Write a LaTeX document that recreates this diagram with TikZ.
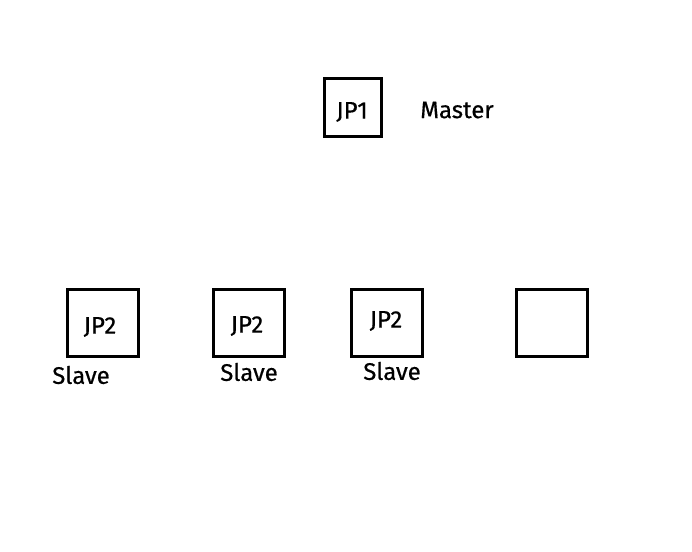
\documentclass[tikz,border=0pt]{standalone}
\usepackage{fontspec}
\setmainfont{Fira Sans}
\usetikzlibrary{positioning}

\begin{document}
\begin{tikzpicture}[
    x=1pt, y=1pt,
    jumper/.style={rectangle, draw, line width=3pt, minimum width=71pt, minimum height=67pt},
    master/.style={jumper, minimum width=57pt, minimum height=58pt},
    role/.style={font=\fontsize{24}{28}\selectfont\addfontfeature{FakeBold=0.5}}
]
\useasboundingbox (0,0) rectangle (692,551);

% Master jumper
\node[master] (jp1) at (352.5,443.5) {};
\node[role] (jp1txt) at (352,439) {JP1};
\node[role] (master_lbl) at (457,441) {Master};

% Slave jumpers
\node[jumper] (jp2a) at (102.5,228) {};
\node[jumper] (jp2b) at (248.5,228) {};
\node[jumper] (jp2c) at (386.5,228) {};
\node[jumper] (spare) at (551.5,228) {};

\node[role] (jp2a_txt) at (100,224) {JP2};
\node[role] (jp2b_txt) at (247,225) {JP2};
\node[role] (jp2c_txt) at (386,230) {JP2};

\node[role] (slave_a) at (81,176) {Slave};
\node[role] (slave_b) at (249,179) {Slave};
\node[role] (slave_c) at (392,180) {Slave};

\end{tikzpicture}
\end{document}
